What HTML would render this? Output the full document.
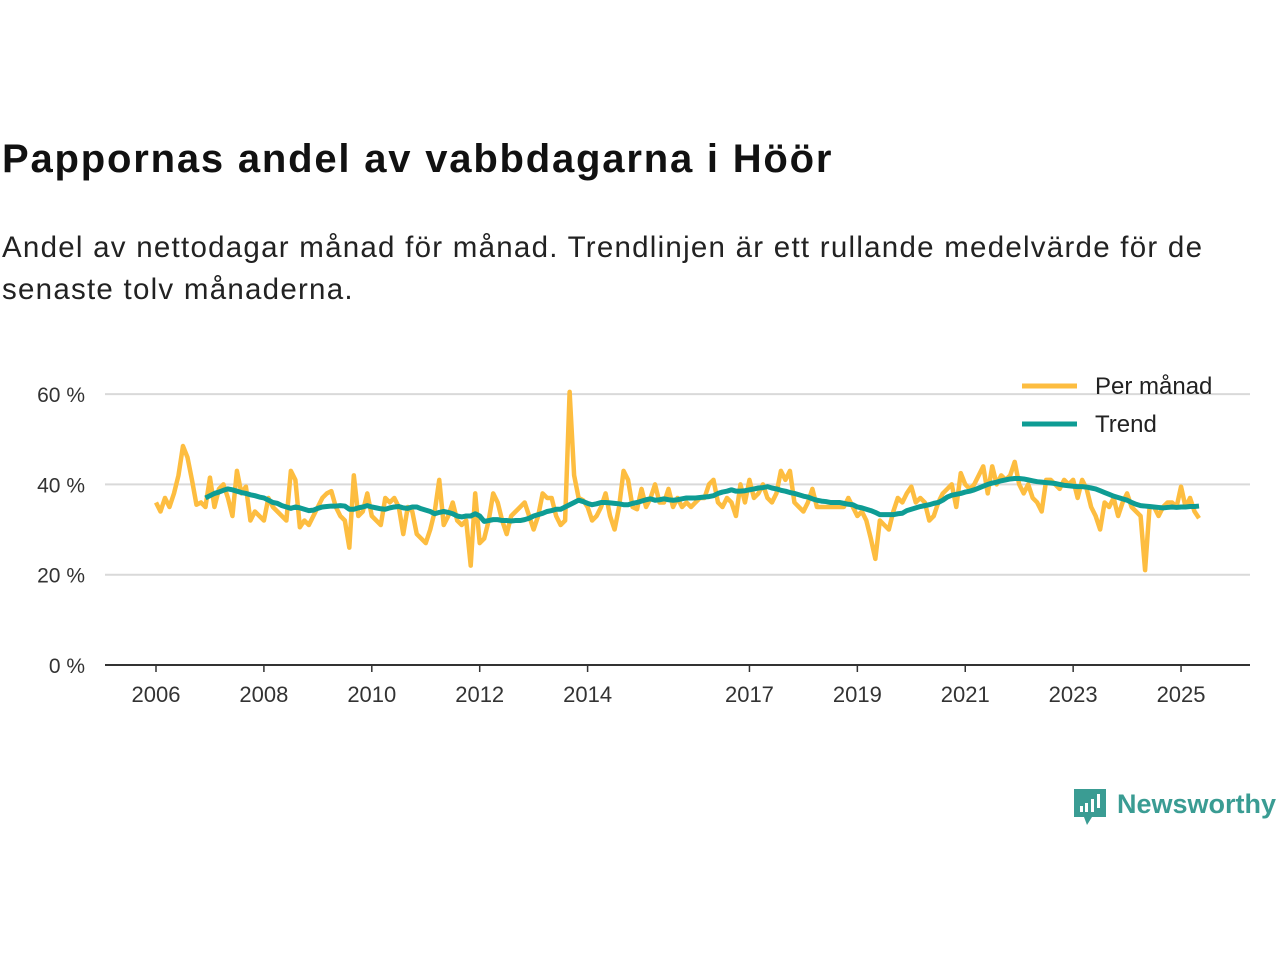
<!DOCTYPE html>
<html><head><meta charset="utf-8">
<style>
body{margin:0;width:1280px;height:960px;background:#fff;font-family:"Liberation Sans","DejaVu Sans",sans-serif;overflow:hidden;position:relative}
#title{position:absolute;left:2px;top:137px;font-size:40px;font-weight:bold;color:#111;margin:0;letter-spacing:1.8px;white-space:nowrap}
#sub{position:absolute;left:2px;top:227px;font-size:29.5px;line-height:42px;color:#222;width:1270px;letter-spacing:1.25px;white-space:nowrap}
svg{position:absolute;left:0;top:0}
</style></head><body>
<h1 id="title">Pappornas andel av vabbdagarna i Höör</h1>
<div id="sub">Andel av nettodagar månad för månad. Trendlinjen är ett rullande medelvärde för de<br>senaste tolv månaderna.</div>
<svg id="chart" width="1280" height="960"></svg>
<script>
const monthly=[
36,34,37,35,38,42,48.5,46,41,35.5,36,35,
41.5,35,39,40,37,33,43,38,39.5,32,34,33,
32,37,35,34,33,32,43,41,30.5,32,31,33,
35,37,38,38.5,35,33,32,26,42,33,34,38,
33,32,31,37,36,37,35,29,35,34,29,28,
27,30,34,41,31,33,36,32,31,32,22,38,
27,28,32,38,36,32,29,33,34,35,36,33,
30,33,38,37,37,33,31,32,60.5,42,37,36.5,
35,32,33,35,38,33,30,35,43,41,35,34.5,
39,35,37,40,36,36,39,35,37,35,36,35,
36,37,37,40,41,36,35,37,36,33,40,36,
41,37,38,40,37,36,38,43,41,43,36,35,
34,36,39,35,35,35,35,35,35,35,37,35,
33,34,32,28,23.5,32,31,30,34,37,36,38,
39.5,36,37,36,32,33,36,38,39,40,35,42.5,
40,39,40,42,44,38,44,40,42,41,42,45,
40,38,40,37,36,34,41,41,40,39,41,40,
41,37,41,39,35,33,30,36,35,37,33,36,
38,35,34,33,21,35,35,33,35,36,36,35,
39.5,35,37,34,32.5];
const trendStart=11;
const trend=[37,
37.5,38,38.3,38.7,39,38.8,38.5,38.2,38,37.7,37.5,37.2,
37,36.5,36,35.8,35.3,35,34.7,35,34.8,34.5,34.2,34.3,
34.7,35,35.1,35.2,35.2,35.3,35.2,34.5,34.5,34.8,35,35.3,
35,34.8,34.6,34.5,34.8,35,35.1,34.8,34.7,35,35,34.6,
34.3,34,33.5,33.8,34,33.8,33.5,33,32.8,33,33,33.5,
33,31.8,32,32.2,32.2,32,32,31.9,32,32,32.2,32.5,
33,33.3,33.6,34,34.2,34.5,34.5,35,35.5,36,36.5,36.2,
35.8,35.5,35.7,36,36,35.9,35.8,35.7,35.5,35.5,35.8,36,
36.3,36.6,36.8,36.5,36.6,36.8,36.6,36.5,36.6,36.8,37,37,
37,37.1,37.2,37.3,37.5,38,38.3,38.5,38.8,38.5,38.5,38.6,
38.8,39,39.2,39.3,39.5,39.2,39,38.7,38.5,38.2,38,37.7,
37.4,37.2,36.8,36.5,36.3,36.2,36,36,36,35.8,35.6,35.5,
35,34.8,34.5,34.2,33.8,33.3,33.3,33.3,33.3,33.5,33.6,34.2,
34.5,34.8,35.1,35.3,35.5,35.8,36,36.5,37.2,37.6,37.8,38,
38.3,38.5,38.8,39.2,39.6,40,40.3,40.5,40.8,41,41.2,41.3,
41.3,41.2,41,40.8,40.6,40.5,40.4,40.3,40.2,40,39.8,39.7,
39.6,39.5,39.5,39.4,39.2,39,38.6,38.2,37.8,37.4,37.1,36.8,
36.5,36,35.6,35.3,35.2,35.1,35,34.9,34.8,34.9,35,34.9,
35,35,35.1,35.1,35.2];
const yTicks=[0,20,40,60];
const yTickLabels=["0 %","20 %","40 %","60 %"];
const xTicks=[2006,2008,2010,2012,2014,2017,2019,2021,2023,2025];
const startYear=2006;

const svg=document.getElementById('chart');
const NS='http://www.w3.org/2000/svg';
const X0=156,PXY=53.95;
const xs=m=>X0+m*PXY/12;
const xYear=y=>X0+(y-startYear)*PXY;
const ys=v=>665-v*4.515;
function mk(t,a){const e=document.createElementNS(NS,t);for(const k in a)e.setAttribute(k,a[k]);svg.appendChild(e);return e;}

yTicks.forEach((v,i)=>{
  if(v>0){const g=mk('line',{x1:105,x2:1250,y1:ys(v),y2:ys(v),stroke:'#d9d9d9','stroke-width':2});
  
  }
  const t=mk('text',{x:85,y:ys(v)+8,'text-anchor':'end','font-size':21,fill:'#333','font-family':'Liberation Sans, sans-serif'});
  t.textContent=yTickLabels[i];
  
  
});
const ax=mk('line',{x1:105,x2:1250,y1:665,y2:665,stroke:'#333','stroke-width':2});


xTicks.forEach(y=>{
  const tk=mk('line',{x1:xYear(y),x2:xYear(y),y1:665,y2:672,stroke:'#333','stroke-width':1.5});
  
  
  const t=mk('text',{x:xYear(y),y:702,'text-anchor':'middle','font-size':22,fill:'#333','font-family':'Liberation Sans, sans-serif'});
  t.textContent=y;
  
  
});
const p1=mk('polyline',{points:monthly.map((v,i)=>xs(i)+','+ys(v)).join(' '),fill:'none',stroke:'#fdbd40','stroke-width':4.5,'stroke-linejoin':'round'});


const p2=mk('polyline',{points:trend.map((v,i)=>xs(i+trendStart)+','+ys(v)).join(' '),fill:'none',stroke:'#0e9c94','stroke-width':5,'stroke-linejoin':'round'});


[['Per månad','#fdbd40',386],['Trend','#0e9c94',424]].forEach(([lab,c,y])=>{
  const l=mk('line',{x1:1022,x2:1077,y1:y,y2:y,stroke:c,'stroke-width':5});
  
  
  const t=mk('text',{x:1095,y:y+8,'font-size':24,fill:'#222','font-family':'Liberation Sans, sans-serif'});
  t.textContent=lab;
  
  
});
const lg=mk('path',{d:'M1074 789 h32 v28 h-14 l-5 8 l-3 -8 h-10 z',fill:'#3a9c93'});


[[1080,806,3,6],[1085,803,3,9],[1091,799,3,13],[1097,794,3,14]].forEach(r=>{
  const b=mk('rect',{x:r[0],y:r[1],width:r[2],height:r[3],fill:'#fff'});
  
  
});
const lt=mk('text',{x:1117,y:813,'font-size':27,'font-weight':'bold',fill:'#3a9c93','font-family':'Liberation Sans, sans-serif'});
lt.textContent='Newsworthy';


</script>
</body></html>
